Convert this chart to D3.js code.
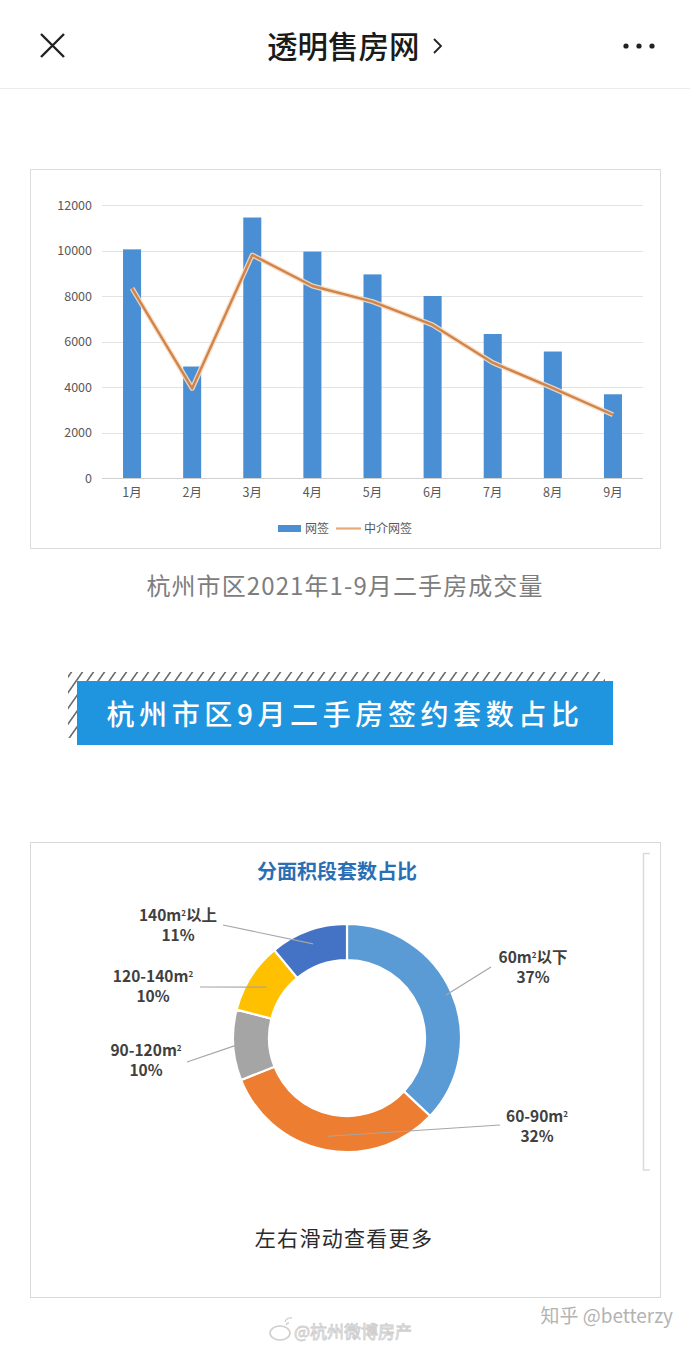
<!DOCTYPE html>
<html><head><meta charset="utf-8">
<script src="https://cdn.jsdelivr.net/npm/d3@7"></script>
<style>
html,body{margin:0;padding:0;background:#fff;}
svg{display:block;font-family:"Noto Sans CJK SC","Noto Sans",sans-serif;}
</style></head>
<body>
<svg id="c" width="690" height="1346"></svg>
<script>
// ---- data ----
const months = ["1月","2月","3月","4月","5月","6月","7月","8月","9月"];
const wangqian = [10050, 4900, 11450, 9950, 8950, 8000, 6330, 5560, 3680];
const zhongjie = [8340, 3940, 9800, 8440, 7750, 6730, 5070, 3950, 2780];
const yTicks = [0, 2000, 4000, 6000, 8000, 10000, 12000];
const seriesNames = ["网签", "中介网签"];

const segNames = ["60m²以下", "60-90m²", "90-120m²", "120-140m²", "140m²以上"];
const segShares = [37, 32, 10, 10, 11];
const segColors = ["#5b9bd5", "#ed7d31", "#a5a5a5", "#ffc000", "#4472c4"];

const svg = d3.select("#c");
const CJK = '"Noto Sans CJK SC","Noto Sans",sans-serif';

// ---- header ----
const hdr = svg.append("g");
hdr.append("path").attr("d","M41,34 L64,57 M64,34 L41,57").attr("stroke","#222").attr("stroke-width",2.4).attr("fill","none");
hdr.append("text").attr("x",267).attr("y",58).attr("text-anchor","start")
  .attr("font-size",30.5).attr("font-weight",500).attr("fill","#1a1a1a").text("透明售房网");
hdr.append("path").attr("d","M434,39 L441,46 L434,53").attr("stroke","#222").attr("stroke-width",1.8).attr("fill","none");
[626,639,652].forEach(x=>hdr.append("circle").attr("cx",x).attr("cy",46).attr("r",2.6).attr("fill","#222"));
hdr.append("line").attr("x1",0).attr("x2",690).attr("y1",88.5).attr("y2",88.5).attr("stroke","#ececec");

// ---- bar chart panel ----
svg.append("rect").attr("x",30.5).attr("y",169.5).attr("width",630).attr("height",379)
  .attr("fill","#fff").attr("stroke","#dcdcdc");

const x = d3.scaleBand().domain(months).range([102,643]).paddingInner(0.7).paddingOuter(0.35);
const y = d3.scaleLinear().domain([0,12000]).range([478,205]);

const grid = svg.append("g");
grid.selectAll("line").data(yTicks).join("line")
  .attr("x1",102).attr("x2",643).attr("y1",d=>Math.round(y(d))+0.5).attr("y2",d=>Math.round(y(d))+0.5)
  .attr("stroke",d=>d===0?"#d0d0d0":"#e3e3e3");

const yAx = svg.append("g").attr("transform","translate(102,0)")
  .call(d3.axisLeft(y).tickValues(yTicks).tickFormat(d3.format("d")).tickSize(0).tickPadding(10));
yAx.select(".domain").remove();
yAx.selectAll("text").attr("font-size",12.5).attr("fill","#595959").attr("font-family",CJK);

const xAx = svg.append("g").attr("transform","translate(0,478)")
  .call(d3.axisBottom(x).tickSize(0).tickPadding(10));
xAx.select(".domain").remove();
xAx.selectAll("text").attr("font-size",12.5).attr("fill","#595959").attr("font-family",CJK);

svg.append("g").selectAll("rect").data(wangqian).join("rect")
  .attr("x",(d,i)=>x(months[i])).attr("width",x.bandwidth())
  .attr("y",d=>y(d)).attr("height",d=>y(0)-y(d)).attr("fill","#4a8fd4");

const line = d3.line().x((d,i)=>x(months[i])+x.bandwidth()/2).y(d=>y(d));
svg.append("path").datum(zhongjie).attr("d",line).attr("fill","none")
  .attr("stroke","#f7dcc2").attr("stroke-width",5).attr("stroke-linejoin","round").attr("opacity",0.9);
svg.append("path").datum(zhongjie).attr("d",line).attr("fill","none")
  .attr("stroke","#d0844a").attr("stroke-width",2.4).attr("stroke-linejoin","round");

// legend
const lg = svg.append("g");
lg.append("rect").attr("x",278).attr("y",525).attr("width",23).attr("height",7).attr("fill","#4a8fd4");
lg.append("text").attr("x",305).attr("y",533).attr("font-size",12).attr("fill","#595959").text(seriesNames[0]);
lg.append("line").attr("x1",336).attr("x2",361).attr("y1",528.5).attr("y2",528.5).attr("stroke","#e8a877").attr("stroke-width",2.2);
lg.append("text").attr("x",364).attr("y",533).attr("font-size",12).attr("fill","#595959").text(seriesNames[1]);

// caption
svg.append("text").attr("x",345).attr("y",595).attr("text-anchor","middle")
  .attr("font-size",24).attr("letter-spacing",1.1).attr("fill","#7d7d7d").text("杭州市区2021年1-9月二手房成交量");

// ---- banner ----
const defs = svg.append("defs");
const pat = defs.append("pattern").attr("id","hatch").attr("patternUnits","userSpaceOnUse")
  .attr("width",11).attr("height",11).attr("patternTransform","skewX(-35)");
pat.append("rect").attr("width",11).attr("height",11).attr("fill","#fff");
pat.append("line").attr("x1",3).attr("x2",3).attr("y1",0).attr("y2",11).attr("stroke","#4a4a4a").attr("stroke-width",1.6);
svg.append("rect").attr("x",68).attr("y",672).attr("width",537).attr("height",66).attr("fill","url(#hatch)");
svg.append("rect").attr("x",77).attr("y",681).attr("width",536).attr("height",64).attr("fill","#1f95df");
svg.append("text").attr("x",345).attr("y",725).attr("text-anchor","middle")
  .attr("font-size",28).attr("font-weight",500).attr("letter-spacing",4.6).attr("fill","#fff")
  .text("杭州市区9月二手房签约套数占比");

// ---- donut panel ----
svg.append("rect").attr("x",30.5).attr("y",842.5).attr("width",630).attr("height",455)
  .attr("fill","#fff").attr("stroke","#d9d9d9");
svg.append("path").attr("d","M650,853.5 H643.5 V1170 H650").attr("fill","none").attr("stroke","#dadada").attr("stroke-width",1.5);

svg.append("text").attr("x",337).attr("y",879).attr("text-anchor","middle")
  .attr("font-size",20).attr("font-weight",700).attr("fill","#2a6fb5").text("分面积段套数占比");

const cx = 347, cy = 1038, rIn = 78, rOut = 114;
const pie = d3.pie().sort(null).value(d=>d);
const arcs = pie(segShares);
const arc = d3.arc().innerRadius(rIn).outerRadius(rOut);
const dg = svg.append("g").attr("transform",`translate(${cx},${cy})`);
dg.selectAll("path").data(arcs).join("path").attr("d",arc)
  .attr("fill",(d,i)=>segColors[i]).attr("stroke","#fff").attr("stroke-width",2.2);

// labels
const labelPos = [
  {tx:533, ty:963, lx:491, ly:967, r:108},
  {tx:537, ty:1122, lx:500, ly:1125, r:100},
  {tx:146, ty:1056, lx:187, ly:1062, r:110},
  {tx:153, ty:982, lx:200, ly:987, r:95},
  {tx:178, ty:921, lx:223, ly:925, r:100}
];
const lab = svg.append("g");
arcs.forEach((a,i)=>{
  const m = (a.startAngle+a.endAngle)/2, p = labelPos[i];
  const sx = cx + p.r*Math.sin(m), sy = cy - p.r*Math.cos(m);
  lab.append("line").attr("x1",sx).attr("y1",sy).attr("x2",p.lx).attr("y2",p.ly)
    .attr("stroke","#a6a6a6").attr("stroke-width",1.2);
  const name = segNames[i].split("²");
  const t = lab.append("text").attr("x",p.tx).attr("y",p.ty).attr("text-anchor","middle")
    .attr("font-size",15.5).attr("font-weight",700).attr("fill","#404040");
  t.append("tspan").text(name[0]);
  t.append("tspan").attr("font-size",8).attr("baseline-shift","super").text("2");
  if (name[1]) t.append("tspan").text(name[1]);
  lab.append("text").attr("x",p.tx).attr("y",p.ty+20).attr("text-anchor","middle")
    .attr("font-size",15.5).attr("font-weight",700).attr("fill","#404040").text(segShares[i]+"%");
});

svg.append("text").attr("x",344).attr("y",1246).attr("text-anchor","middle")
  .attr("font-size",21).attr("letter-spacing",1.3).attr("fill","#2b2b2b").text("左右滑动查看更多");

// ---- footer watermarks ----
svg.append("text").attr("x",673).attr("y",1323).attr("text-anchor","end")
  .attr("font-size",19).attr("fill","#b3b3b3").text("知乎 @betterzy");
const wb = svg.append("g");
wb.append("ellipse").attr("cx",280).attr("cy",1333).attr("rx",10).attr("ry",7)
  .attr("fill","none").attr("stroke","#cfcfcf").attr("stroke-width",1.6);
wb.append("path").attr("d","M285,1322 a6,6 0 0 1 7,-4 M286,1325 a3,3 0 0 1 3,-2").attr("fill","none").attr("stroke","#cfcfcf").attr("stroke-width",1.4);
wb.append("text").attr("x",294).attr("y",1338).attr("font-size",17)
  .attr("fill","#f4f4f4").attr("stroke","#cdcdcd").attr("stroke-width",0.8).text("@杭州微博房产");
</script>
</body></html>
